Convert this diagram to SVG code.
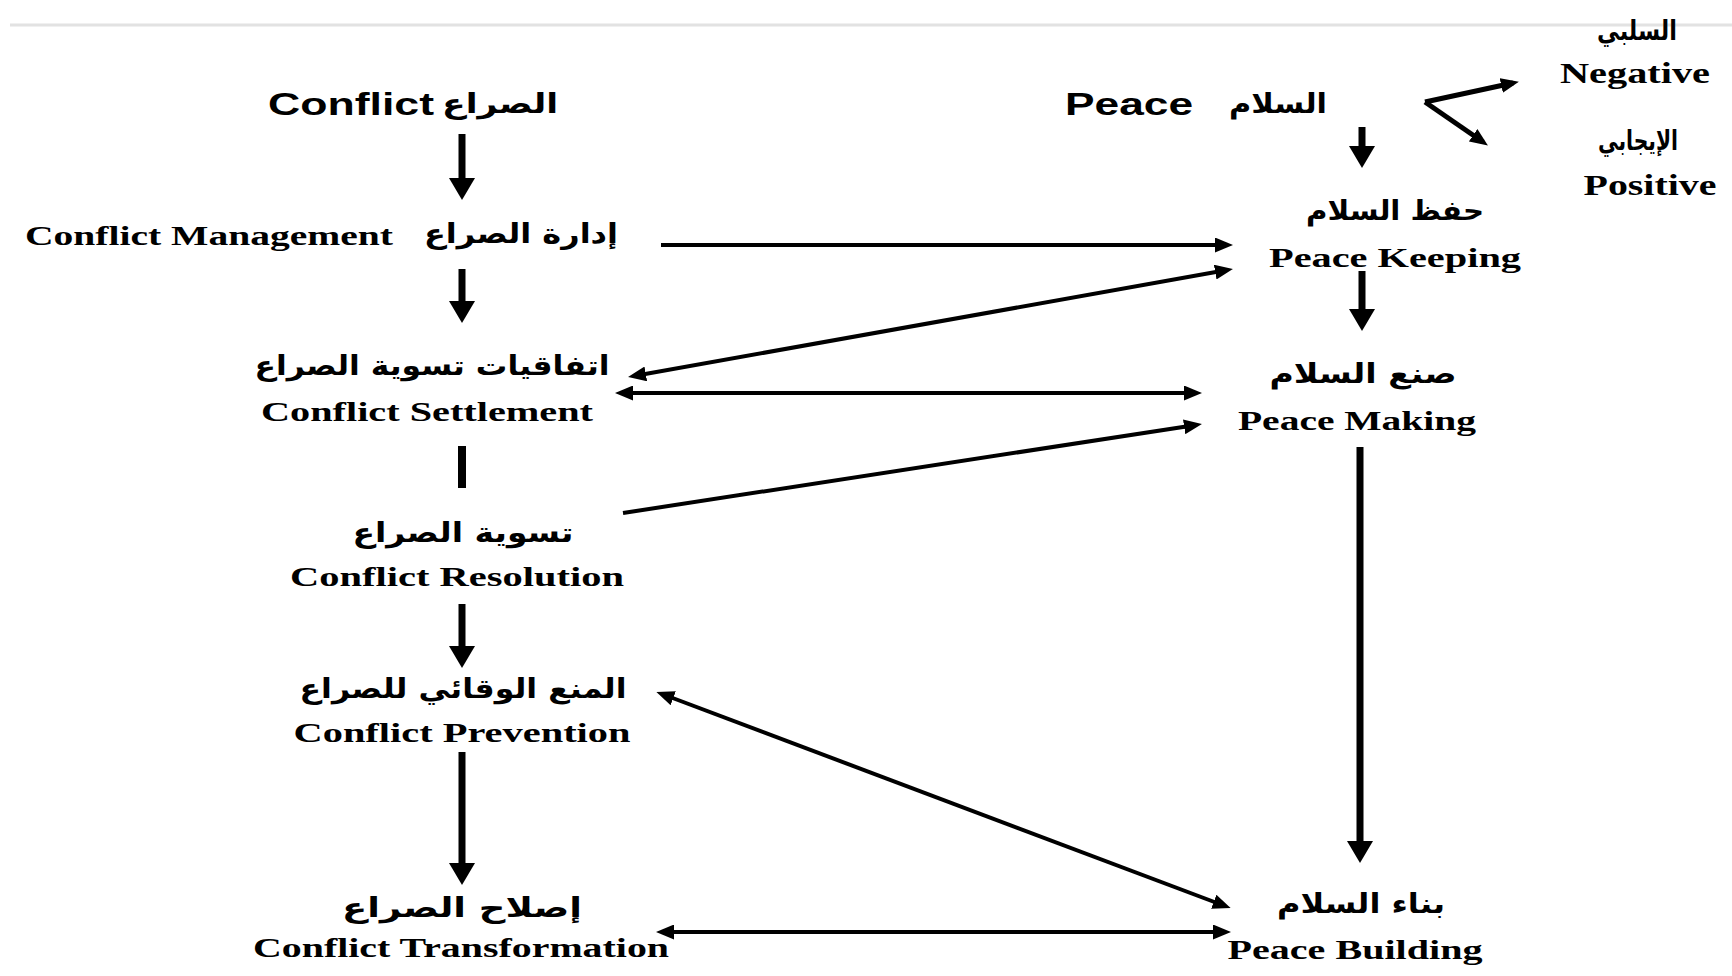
<svg xmlns="http://www.w3.org/2000/svg" width="1732" height="976" viewBox="0 0 1732 976">
<style>
.en{font-family:"Liberation Serif","Times New Roman",serif;font-weight:bold;font-size:27px;fill:#000}
.hd{font-family:"Liberation Sans",Arial,sans-serif;font-weight:bold;font-size:31px;fill:#000}
.ar{font-family:"DejaVu Sans","Noto Sans",sans-serif;font-weight:bold;font-size:27px;fill:#000}
.thin{stroke:#000;stroke-width:4;fill:none;marker-end:url(#h)}
.dbl{stroke:#000;stroke-width:4;fill:none;marker-start:url(#h);marker-end:url(#h)}
.thick{stroke:#000;stroke-width:7;fill:none;marker-end:url(#H)}
.br{stroke:#000;stroke-width:5;fill:none;marker-end:url(#h)}
</style>
<defs>
<marker id="h" markerUnits="userSpaceOnUse" markerWidth="18" markerHeight="15" refX="12" refY="7.5" orient="auto-start-reverse" viewBox="0 0 18 15"><path d="M0,0 L18,7.5 L0,15 z" fill="#000"/></marker>
<marker id="H" markerUnits="userSpaceOnUse" markerWidth="22" markerHeight="26" refX="15" refY="13" orient="auto" viewBox="0 0 22 26"><path d="M0,0 L22,13 L0,26 z" fill="#000"/></marker>
</defs>
<rect width="1732" height="976" fill="#fff"/>
<line x1="10" y1="25" x2="1732" y2="25" stroke="#e2e2e2" stroke-width="3"/>

<g id="connectors">
<line class="thick" x1="462" y1="134" x2="462" y2="193"/>
<line class="thick" x1="462" y1="269" x2="462" y2="316"/>
<line x1="462" y1="446" x2="462" y2="488" stroke="#000" stroke-width="8"/>
<line class="thick" x1="462" y1="604" x2="462" y2="661"/>
<line class="thick" x1="462" y1="752" x2="462" y2="878"/>
<line class="thick" x1="1362" y1="127" x2="1362" y2="161"/>
<line class="thick" x1="1362" y1="271" x2="1362" y2="324"/>
<line class="thick" x1="1360" y1="447" x2="1360" y2="856"/>
<line class="thin" x1="661" y1="245" x2="1227" y2="245"/>
<line class="dbl" x1="634" y1="376" x2="1227" y2="270"/>
<line class="dbl" x1="621" y1="393" x2="1196" y2="393"/>
<line class="thin" x1="623" y1="513" x2="1196" y2="425"/>
<line class="dbl" x1="662" y1="694" x2="1225" y2="906"/>
<line class="dbl" x1="662" y1="932" x2="1225" y2="932"/>
<line class="br" x1="1425" y1="102" x2="1513" y2="83"/>
<line class="br" x1="1425" y1="102" x2="1483" y2="142"/>
</g>

<g id="conflict">
<text class="hd" x="268" y="115" textLength="166" lengthAdjust="spacingAndGlyphs">Conflict</text>
<text class="ar" x="442" y="113" textLength="116" lengthAdjust="spacingAndGlyphs">الصراع</text>
</g>
<g id="conflict-management">
<text class="en" x="25" y="245" textLength="368" lengthAdjust="spacingAndGlyphs">Conflict Management</text>
<text class="ar" x="424" y="243" textLength="194" lengthAdjust="spacingAndGlyphs">إدارة الصراع</text>
</g>
<g id="conflict-settlement">
<text class="ar" x="432" y="375" text-anchor="middle" textLength="355" lengthAdjust="spacingAndGlyphs">اتفاقيات تسوية الصراع</text>
<text class="en" x="427" y="421" text-anchor="middle" textLength="332" lengthAdjust="spacingAndGlyphs">Conflict Settlement</text>
</g>
<g id="conflict-resolution">
<text class="ar" x="463" y="542" text-anchor="middle" textLength="221" lengthAdjust="spacingAndGlyphs">تسوية الصراع</text>
<text class="en" x="457" y="586" text-anchor="middle" textLength="334" lengthAdjust="spacingAndGlyphs">Conflict Resolution</text>
</g>
<g id="conflict-prevention">
<text class="ar" x="463" y="698" text-anchor="middle" textLength="327" lengthAdjust="spacingAndGlyphs">المنع الوقائي للصراع</text>
<text class="en" x="462" y="742" text-anchor="middle" textLength="337" lengthAdjust="spacingAndGlyphs">Conflict Prevention</text>
</g>
<g id="conflict-transformation">
<text class="ar" x="462" y="917" text-anchor="middle" textLength="240" lengthAdjust="spacingAndGlyphs">إصلاح الصراع</text>
<text class="en" x="461" y="957" text-anchor="middle" textLength="416" lengthAdjust="spacingAndGlyphs">Conflict Transformation</text>
</g>
<g id="peace">
<text class="hd" x="1065" y="115" textLength="128" lengthAdjust="spacingAndGlyphs">Peace</text>
<text class="ar" x="1229" y="113" textLength="98" lengthAdjust="spacingAndGlyphs">السلام</text>
</g>
<g id="negative">
<text class="ar" x="1637" y="40" text-anchor="middle" textLength="80" lengthAdjust="spacingAndGlyphs">السلبي</text>
<text class="en" x="1635" y="83" text-anchor="middle" style="font-size:29px" textLength="150" lengthAdjust="spacingAndGlyphs">Negative</text>
</g>
<g id="positive">
<text class="ar" x="1638" y="150" text-anchor="middle" textLength="80" lengthAdjust="spacingAndGlyphs">الإيجابي</text>
<text class="en" x="1650" y="195" text-anchor="middle" style="font-size:29px" textLength="133" lengthAdjust="spacingAndGlyphs">Positive</text>
</g>
<g id="peace-keeping">
<text class="ar" x="1395" y="220" text-anchor="middle" textLength="178" lengthAdjust="spacingAndGlyphs">حفظ السلام</text>
<text class="en" x="1395" y="267" text-anchor="middle" textLength="252" lengthAdjust="spacingAndGlyphs">Peace Keeping</text>
</g>
<g id="peace-making">
<text class="ar" x="1363" y="383" text-anchor="middle" textLength="187" lengthAdjust="spacingAndGlyphs">صنع السلام</text>
<text class="en" x="1357" y="430" text-anchor="middle" textLength="238" lengthAdjust="spacingAndGlyphs">Peace Making</text>
</g>
<g id="peace-building">
<text class="ar" x="1361" y="913" text-anchor="middle" textLength="168" lengthAdjust="spacingAndGlyphs">بناء السلام</text>
<text class="en" x="1355" y="959" text-anchor="middle" textLength="255" lengthAdjust="spacingAndGlyphs">Peace Building</text>
</g>
</svg>
